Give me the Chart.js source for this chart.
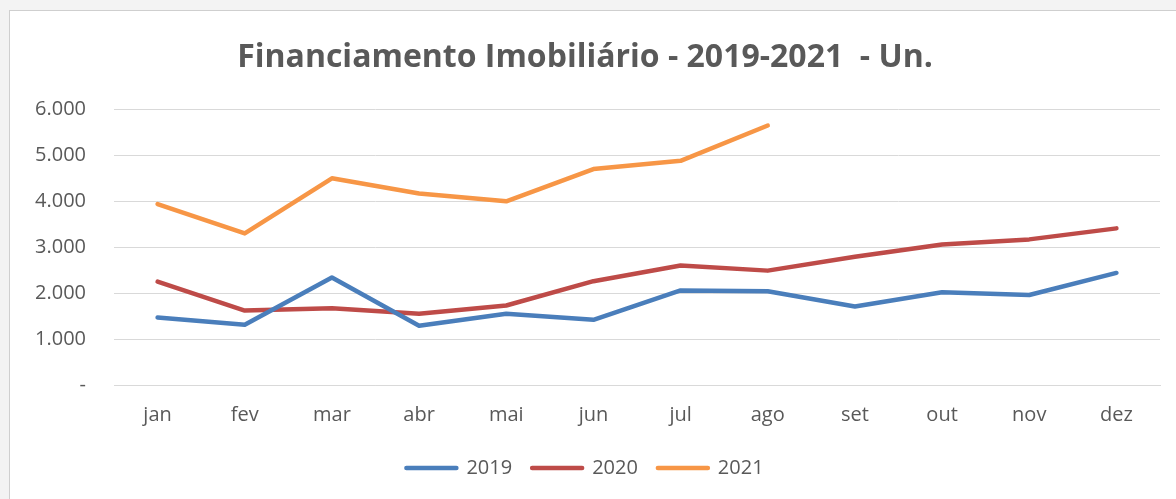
<!DOCTYPE html>
<html>
<head>
<meta charset="utf-8">
<script src="https://cdn.jsdelivr.net/npm/chart.js@4"></script>
<style>
  html, body { margin: 0; padding: 0; background: #f3f3f3; overflow: hidden; }
  #wrap { position: absolute; left: 9px; top: 10px; width: 1167px; height: 489px; box-sizing: border-box;
          background: #fff; border-left: 1px solid #cfcfcf; border-top: 1px solid #cfcfcf; }
</style>
</head>
<body>
<div id="wrap"><canvas id="financChart"></canvas></div>
<script>
const months = ['jan', 'fev', 'mar', 'abr', 'mai', 'jun', 'jul', 'ago', 'set', 'out', 'nov', 'dez'];
const data2019 = [1470, 1310, 2340, 1290, 1550, 1420, 2060, 2040, 1710, 2020, 1960, 2440];
const data2020 = [2250, 1620, 1670, 1550, 1730, 2260, 2600, 2490, 2790, 3060, 3170, 3410];
const data2021 = [3940, 3300, 4500, 4170, 4000, 4700, 4880, 5650];
const yTicks = [0, 1000, 2000, 3000, 4000, 5000, 6000];

const grey = '#595959';

function fmt(v) {
    if (v === 0) return '-';
    return v.toLocaleString('de-DE');
}

// pull the legend up a bit closer to the axis labels
const legendLift = {
    id: 'legendLift',
    afterLayout(chart) {
        chart.legend.top -= 7;
        chart.legend.bottom -= 7;
    }
};

const ctx = document.getElementById('financChart').getContext('2d');
new Chart(ctx, {
    type: 'line',
    data: {
        labels: months,
        datasets: [
            { label: '2019', data: data2019, borderColor: '#4a7ebb', backgroundColor: '#4a7ebb' },
            { label: '2020', data: data2020, borderColor: '#be4b48', backgroundColor: '#be4b48' },
            { label: '2021', data: data2021, borderColor: '#f79646', backgroundColor: '#f79646' }
        ]
    },
    plugins: [legendLift],
    options: {
        responsive: true,
        maintainAspectRatio: false,
        animation: false,
        layout: { padding: { left: 0, right: 16, top: 0, bottom: 4 } },
        elements: {
            line: { borderWidth: 4.5, tension: 0, borderCapStyle: 'round', borderJoinStyle: 'round' },
            point: { radius: 0, hoverRadius: 0 }
        },
        plugins: {
            title: {
                display: true,
                text: 'Financiamento Imobiliário - 2019-2021  - Un.',
                color: grey,
                font: { family: 'Open Sans', size: 32, weight: 'bold' },
                padding: { top: 28, bottom: 32 }
            },
            legend: {
                position: 'bottom',
                labels: {
                    color: grey,
                    font: { family: 'Open Sans', size: 20 },
                    boxWidth: 50,
                    boxHeight: 0,
                    padding: 20
                }
            },
            tooltip: { enabled: false }
        },
        scales: {
            x: {
                offset: true,
                grid: { display: false, drawTicks: false },
                border: { color: '#d9d9d9', width: 1 },
                ticks: { color: grey, font: { family: 'Open Sans', size: 20 }, padding: 18 }
            },
            y: {
                min: 0,
                max: 6000,
                afterBuildTicks: (scale) => { scale.ticks = yTicks.map(v => ({ value: v })); },
                afterFit: (scale) => { scale.width = 104; },
                grid: { color: '#d9d9d9', lineWidth: 1, drawTicks: false },
                border: { display: false },
                ticks: { color: grey, font: { family: 'Open Sans', size: 20 }, padding: 28, callback: fmt }
            }
        }
    }
});
</script>
</body>
</html>
